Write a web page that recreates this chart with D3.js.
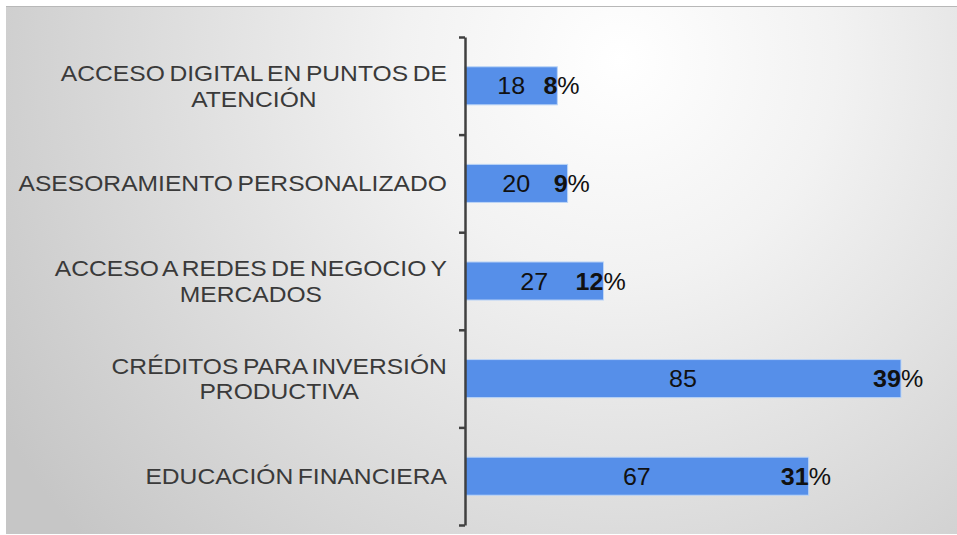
<!DOCTYPE html>
<html>
<head>
<meta charset="utf-8">
<script src="https://cdn.jsdelivr.net/npm/d3@7"></script>
<style>
  body { margin: 0; background: #fff; }
  svg { display: block; }
  text { font-family: "Liberation Sans", Arial, sans-serif; }
</style>
</head>
<body>
<svg id="chart"></svg>
<script>
// categories, top to bottom (each entry is the wrapped lines of the label)
const categories = [
  ["ACCESO DIGITAL EN PUNTOS DE", "ATENCIÓN"],
  ["ASESORAMIENTO PERSONALIZADO"],
  ["ACCESO A REDES DE NEGOCIO Y", "MERCADOS"],
  ["CRÉDITOS PARA INVERSIÓN", "PRODUCTIVA"],
  ["EDUCACIÓN FINANCIERA"]
];
const counts = [18, 20, 27, 85, 67];
const percents = [8, 9, 12, 39, 31];

const width = 957, height = 535;
const stretch = 1.09;    // text in the picture is a bit wide
const labStretch = 1.12; // category labels, with tight word spacing

const svg = d3.select("#chart")
  .attr("width", width)
  .attr("height", height);

// background
const defs = svg.append("defs");
const grad = defs.append("radialGradient")
  .attr("id", "bg")
  .attr("gradientUnits", "userSpaceOnUse")
  .attr("cx", 620).attr("cy", 60).attr("r", 720);
grad.append("stop").attr("offset", "0%").attr("stop-color", "#ffffff");
grad.append("stop").attr("offset", "30%").attr("stop-color", "#f2f2f2");
grad.append("stop").attr("offset", "100%").attr("stop-color", "#c6c6c6");

svg.append("rect")
  .attr("x", 6).attr("y", 6)
  .attr("width", width - 6).attr("height", 528)
  .attr("fill", "url(#bg)");
svg.append("line")
  .attr("x1", 6).attr("x2", width)
  .attr("y1", 6.5).attr("y2", 6.5)
  .attr("stroke", "#b8b8b8").attr("stroke-width", 1);

const keys = categories.map((d, i) => i);

const y = d3.scaleBand()
  .domain(keys)
  .range([37, 525])
  .paddingInner(0.61)
  .paddingOuter(0.305);

const x = d3.scaleLinear()
  .domain([0, 85])
  .range([465, 901]);

// bars
const bars = svg.append("g");
bars.selectAll("rect")
  .data(keys)
  .join("rect")
  .attr("x", x(0))
  .attr("y", i => y(i))
  .attr("width", i => x(counts[i]) - x(0))
  .attr("height", y.bandwidth())
  .attr("fill", "#568fe9")
  .attr("stroke", "#bcd5f6")
  .attr("stroke-width", 1);

// axis with ticks on the band edges
const yEdge = d3.scaleLinear()
  .domain([0, categories.length])
  .range(y.range());

const axis = svg.append("g")
  .attr("transform", `translate(${x(0)},0)`)
  .call(d3.axisLeft(yEdge).ticks(categories.length).tickSize(6).tickSizeOuter(0).tickFormat(""));
axis.select(".domain").attr("stroke", "#404040").attr("stroke-width", 2.5);
axis.selectAll(".tick line").attr("stroke", "#404040").attr("stroke-width", 2.5);

// category labels: block right aligned to the axis, lines centred in the block
const lh = 25.5;
const labelRight = 447;
const lab = svg.append("g");
keys.forEach(i => {
  const lines = categories[i];
  const cy = y(i) + y.bandwidth() / 2;
  const g = lab.append("g");
  const texts = g.selectAll("text")
    .data(lines)
    .join("text")
    .attr("font-size", 22)
    .attr("word-spacing", -2)
    .attr("fill", "#3a3a3a")
    .attr("text-anchor", "middle")
    .text(d => d);
  const widths = [];
  texts.each(function () { widths.push(this.getComputedTextLength() * labStretch); });
  const blockW = d3.max(widths);
  const cx = labelRight - blockW / 2;
  texts.attr("transform", (d, j) =>
    `translate(${cx},${cy - (lines.length - 1) * lh / 2 + j * lh + 8}) scale(${labStretch},1)`);
});

// value labels centred in bars
svg.append("g").selectAll("text")
  .data(keys)
  .join("text")
  .attr("transform", i => `translate(${(x(0) + x(counts[i])) / 2},${y(i) + y.bandwidth() / 2 + 8.5}) scale(${stretch},1)`)
  .attr("text-anchor", "middle")
  .attr("font-size", 23)
  .attr("fill", "#111")
  .text(i => counts[i]);

// percent labels: bold digits end at the bar end, % sticks out
const pct = svg.append("g");
pct.selectAll("text.num")
  .data(keys)
  .join("text")
  .attr("class", "num")
  .attr("transform", i => `translate(${x(counts[i])},${y(i) + y.bandwidth() / 2 + 8.5}) scale(${stretch},1)`)
  .attr("text-anchor", "end")
  .attr("font-size", 23)
  .attr("font-weight", "bold")
  .attr("fill", "#111")
  .text(i => percents[i]);
pct.selectAll("text.sign")
  .data(keys)
  .join("text")
  .attr("class", "sign")
  .attr("transform", i => `translate(${x(counts[i])},${y(i) + y.bandwidth() / 2 + 8.5}) scale(${stretch},1)`)
  .attr("text-anchor", "start")
  .attr("font-size", 23)
  .attr("fill", "#111")
  .text("%");
</script>
</body>
</html>
